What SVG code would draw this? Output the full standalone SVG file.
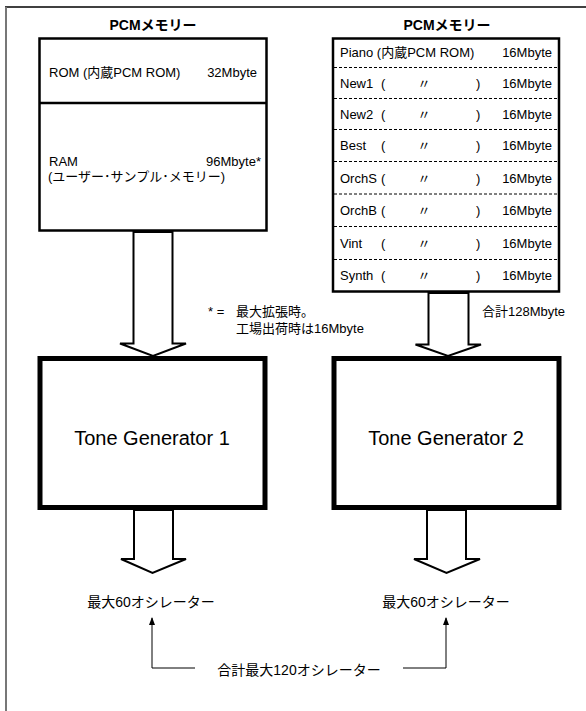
<svg xmlns="http://www.w3.org/2000/svg" width="586" height="711" viewBox="0 0 586 711">
<style>
text{font-family:"Liberation Sans","Noto Sans CJK JP",sans-serif;fill:#000}
.t13{font-size:13px}
.ttl{font-size:14px;font-weight:bold}
.big{font-size:20px}
.b14{font-size:14px}
.box{fill:#fff;stroke:#000;stroke-width:2.5}
.tg{fill:#fff;stroke:#000;stroke-width:5}
.dash{stroke:#000;stroke-width:1;stroke-dasharray:3 2}
.fat{fill:#fff;stroke:#000;stroke-width:2;stroke-linejoin:miter}
.thin{fill:none;stroke:#000;stroke-width:1}
.r{text-anchor:end}
.m{text-anchor:middle}
</style>
<defs>
<marker id="ah" markerWidth="8" markerHeight="10" refX="7" refY="5" orient="auto" markerUnits="userSpaceOnUse">
<path d="M0,2 L8,5 L0,8 Z" fill="#000"/>
</marker>
</defs>
<rect width="586" height="711" fill="#fff"/>
<g id="frame">
<line x1="5" y1="7" x2="586" y2="7" stroke="#000" stroke-width="1.5"/>
<line x1="6" y1="7" x2="6" y2="711" stroke="#777" stroke-width="2"/>
</g>
<g id="connectors">
<polygon class="fat" points="133.5,232 133.5,343.5 120,343.5 153,356 186,343.5 172.5,343.5 172.5,232"/>
<polygon class="fat" points="428.5,293 428.5,344.5 415.5,344.5 448,356 481,344.5 468.5,344.5 468.5,293"/>
<polygon class="fat" points="134,510 134,559 121,559 152.5,573 186,559 173,559 173,510"/>
<polygon class="fat" points="427,510 427,559 414,559 446.5,573 480,559 466,559 466,510"/>
<polyline class="thin" points="195,668 152,668 152,618" marker-end="url(#ah)"/>
<polyline class="thin" points="403,668 446,668 446,618" marker-end="url(#ah)"/>
</g>
<g id="pcm1">
<text class="ttl m" x="153" y="30">PCMメモリー</text>
<rect class="box" x="39.5" y="38.5" width="227" height="192"/>
<line x1="39.5" y1="103" x2="266.5" y2="103" stroke="#000" stroke-width="2.5"/>
<text class="t13" x="49" y="77">ROM (内蔵PCM ROM)</text>
<text class="t13 r" x="257" y="77">32Mbyte</text>
<text class="t13" x="49" y="166">RAM</text>
<text class="t13 r" x="261" y="166">96Mbyte*</text>
<text class="t13" x="48" y="181">(ユーザー･サンプル･メモリー)</text>
</g>
<g id="pcm2">
<text class="ttl m" x="447" y="30">PCMメモリー</text>
<rect class="box" x="333" y="38.5" width="226" height="253"/>
<line class="dash" x1="334" y1="67.5" x2="558" y2="67.5"/>
<line class="dash" x1="334" y1="98.5" x2="558" y2="98.5"/>
<line class="dash" x1="334" y1="129.5" x2="558" y2="129.5"/>
<line class="dash" x1="334" y1="161.5" x2="558" y2="161.5"/>
<line class="dash" x1="334" y1="194" x2="558" y2="194"/>
<line class="dash" x1="334" y1="226.5" x2="558" y2="226.5"/>
<line class="dash" x1="334" y1="259.5" x2="558" y2="259.5"/>
<text class="t13" x="340" y="57">Piano  (内蔵PCM ROM)</text>
<text class="t13 r" x="552" y="57">16Mbyte</text>
<g class="t13">
<text x="340" y="87.5">New1</text><text x="381" y="87.5">(</text><text class="m" x="424" y="87.5">〃</text><text x="476" y="87.5">)</text><text class="r" x="552" y="87.5">16Mbyte</text>
<text x="340" y="118.5">New2</text><text x="381" y="118.5">(</text><text class="m" x="424" y="118.5">〃</text><text x="476" y="118.5">)</text><text class="r" x="552" y="118.5">16Mbyte</text>
<text x="340" y="150">Best</text><text x="381" y="150">(</text><text class="m" x="424" y="150">〃</text><text x="476" y="150">)</text><text class="r" x="552" y="150">16Mbyte</text>
<text x="340" y="182.5">OrchS</text><text x="381" y="182.5">(</text><text class="m" x="424" y="182.5">〃</text><text x="476" y="182.5">)</text><text class="r" x="552" y="182.5">16Mbyte</text>
<text x="340" y="215">OrchB</text><text x="381" y="215">(</text><text class="m" x="424" y="215">〃</text><text x="476" y="215">)</text><text class="r" x="552" y="215">16Mbyte</text>
<text x="340" y="247.5">Vint</text><text x="381" y="247.5">(</text><text class="m" x="424" y="247.5">〃</text><text x="476" y="247.5">)</text><text class="r" x="552" y="247.5">16Mbyte</text>
<text x="340" y="280">Synth</text><text x="381" y="280">(</text><text class="m" x="424" y="280">〃</text><text x="476" y="280">)</text><text class="r" x="552" y="280">16Mbyte</text>
</g>
</g>
<g id="notes">
<text class="t13" x="208" y="316">* =</text>
<text class="t13" x="236" y="316">最大拡張時。</text>
<text class="t13" x="236" y="333">工場出荷時は16Mbyte</text>
<text class="t13" x="482" y="316">合計128Mbyte</text>
</g>
<g id="tg1">
<rect class="tg" x="40" y="358.5" width="225" height="149"/>
<text class="big m" x="152" y="445">Tone Generator 1</text>
</g>
<g id="tg2">
<rect class="tg" x="334" y="358.5" width="225" height="149"/>
<text class="big m" x="446" y="445">Tone Generator 2</text>
</g>
<g id="out1"><text class="b14 m" x="151" y="607">最大60オシレーター</text></g>
<g id="out2"><text class="b14 m" x="446" y="607">最大60オシレーター</text></g>
<g id="total"><text class="b14 m" x="299" y="675">合計最大120オシレーター</text></g>
</svg>
